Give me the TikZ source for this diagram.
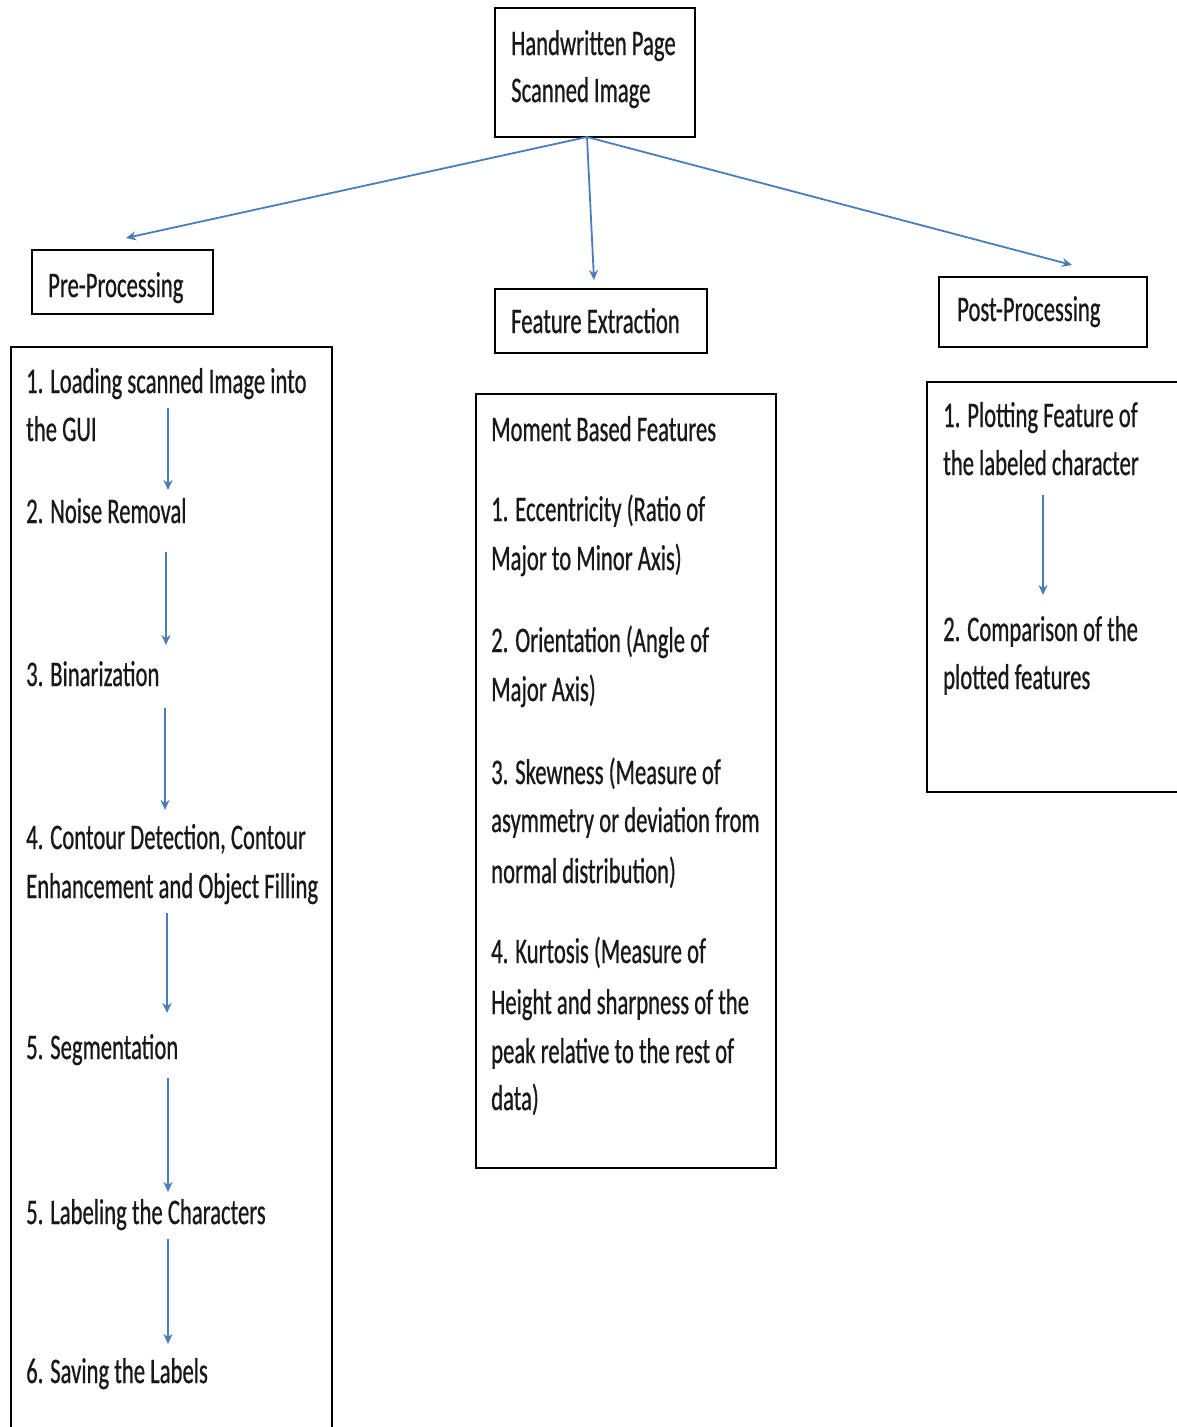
\documentclass[tikz,border=0pt]{standalone}
\usepackage{fontspec}
\setmainfont{Carlito}[FakeStretch=0.63,FakeBold=0.6]
\usetikzlibrary{arrows.meta}
\definecolor{arrblue}{HTML}{4A7EBB}
\tikzset{
  box/.style={draw=black, line width=2pt, fill=none},
  txt/.style={anchor=base west, inner sep=0pt, font=\fontsize{36}{48}\selectfont, text=black!90},
  conn/.style={draw=arrblue, line width=1.8pt, -{Stealth[length=10pt,width=9pt]}},
}
\begin{document}
\begin{tikzpicture}[x=1pt,y=-1pt]
\useasboundingbox (0,0) rectangle (1177,1427);
\clip (0,0) rectangle (1177,1427);
\fill[white] (0,0) rectangle (1177,1427);

% boxes
\draw[box] (495,8) rectangle (695,137);
\draw[box] (32,250) rectangle (213,314);
\draw[box] (495,289) rectangle (707,353);
\draw[box] (939,277) rectangle (1147,347);
\draw[box] (11,347) rectangle (332,1440);
\draw[box] (476,394) rectangle (776,1168);
\draw[box] (927,382) rectangle (1195,792);

% top box text
\node[txt] (t1) at (511,55) {Handwritten Page};
\node[txt] (t2) at (511,102) {Scanned Image};

% headings
\node[txt] (pre) at (48,297) {Pre-Processing};
\node[txt] (fe) at (511,333) {Feature Extraction};
\node[txt] (post) at (957,321) {Post-Processing};

% left list
\node[txt] (l1a) at (26,393) {1. Loading scanned Image into};
\node[txt] (l1b) at (26,441) {the GUI};
\node[txt] (l2) at (26,523) {2. Noise Removal};
\node[txt] (l3) at (26,686) {3. Binarization};
\node[txt] (l4a) at (26,849) {4. Contour Detection, Contour};
\node[txt] (l4b) at (26,898) {Enhancement and Object Filling};
\node[txt] (l5) at (26,1059) {5. Segmentation};
\node[txt] (l6) at (26,1224) {5. Labeling the Characters};
\node[txt] (l7) at (26,1383) {6. Saving the Labels};

% middle list
\node[txt] (m0) at (491,441) {Moment Based Features};
\node[txt] (m1a) at (491,521) {1. Eccentricity (Ratio of};
\node[txt] (m1b) at (491,570) {Major to Minor Axis)};
\node[txt] (m2a) at (491,652) {2. Orientation (Angle of};
\node[txt] (m2b) at (491,701) {Major Axis)};
\node[txt] (m3a) at (491,784) {3. Skewness (Measure of};
\node[txt] (m3b) at (491,832) {asymmetry or deviation from};
\node[txt] (m3c) at (491,883) {normal distribution)};
\node[txt] (m4a) at (491,963) {4. Kurtosis (Measure of};
\node[txt] (m4b) at (491,1014) {Height and sharpness of the};
\node[txt] (m4c) at (491,1063) {peak relative to the rest of};
\node[txt] (m4d) at (491,1110) {data)};

% right list
\node[txt] (r1a) at (943,427) {1. Plotting Feature of};
\node[txt] (r1b) at (943,475) {the labeled character};
\node[txt] (r2a) at (943,641) {2. Comparison of the};
\node[txt] (r2b) at (943,689) {plotted features};

% connector coordinates
\coordinate (src) at (587,137);
\coordinate (preT) at (126,238);
\coordinate (feT) at (594,280);
\coordinate (postT) at (1072,265);
\draw[conn] (src) -- (preT);
\draw[conn] (src) -- (feT);
\draw[conn] (src) -- (postT);

\coordinate (a1s) at (168,408); \coordinate (a1e) at (168,490);
\coordinate (a2s) at (166,552); \coordinate (a2e) at (166,645);
\coordinate (a3s) at (165,708); \coordinate (a3e) at (165,810);
\coordinate (a4s) at (167,913); \coordinate (a4e) at (167,1013);
\coordinate (a5s) at (168,1078); \coordinate (a5e) at (168,1192);
\coordinate (a6s) at (168,1239); \coordinate (a6e) at (168,1344);
\coordinate (b1s) at (1043,495); \coordinate (b1e) at (1043,595);
\foreach \a in {a1,a2,a3,a4,a5,a6,b1}{
  \draw[conn] (\a s) -- (\a e);
}
\end{tikzpicture}
\end{document}
